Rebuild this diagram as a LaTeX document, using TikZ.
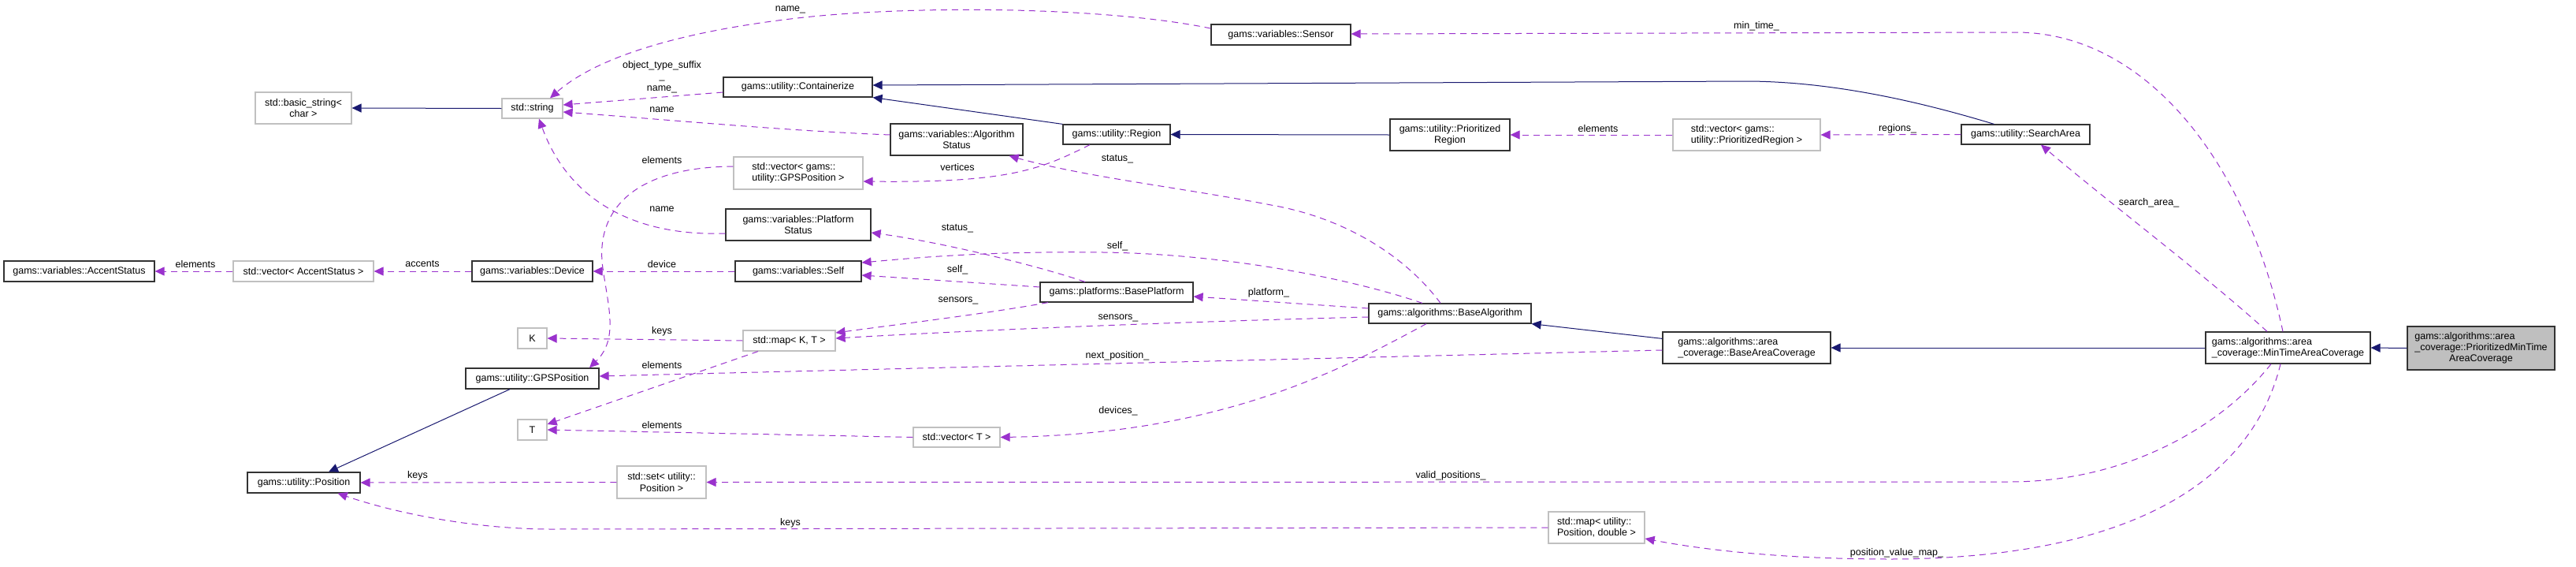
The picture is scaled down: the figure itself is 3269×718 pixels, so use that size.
\documentclass[tikz,border=0pt]{standalone}
\usepackage{fontspec}
\setmainfont{Liberation Sans}
\usetikzlibrary{arrows.meta}
\definecolor{inh}{HTML}{191970}
\definecolor{usg}{HTML}{9A32CD}
\definecolor{gbord}{HTML}{C0C0C0}
\definecolor{gfill}{HTML}{BFBFBF}
\begin{document}
\begin{tikzpicture}[x=1pt,y=-1pt,font=\fontsize{12.5}{14.3}\selectfont,
  cls/.style={draw=black!80,line width=1.2pt,inner sep=0pt,fill=white,text=black},
  ext/.style={draw=gbord,line width=1.2pt,inner sep=0pt,fill=white,text=black},
  inhe/.style={draw=inh,line width=1pt,-{Triangle[length=12pt,width=11pt]}},
  usee/.style={draw=usg,line width=1pt,dash pattern=on 8pt off 6pt,-{Triangle[length=12pt,width=11pt]}},
  lbl/.style={inner sep=0pt,text=black}]
\useasboundingbox (0,0) rectangle (3269,718);
\fill[white] (0,0) rectangle (3269,718);

% ---------- nodes ----------
\node[cls,minimum width=191pt,minimum height=26pt] (acc) at (100.5,344) {gams::variables::AccentStatus};
\node[ext,minimum width=178pt,minimum height=26pt] (vacc) at (385,344) {std::vector< AccentStatus >};
\node[ext,minimum width=122pt,minimum height=40pt,align=center] (bstr) at (385,137) {std::basic\_string<\\char >};
\node[ext,minimum width=77pt,minimum height=25pt] (str) at (675.5,137.5) {std::string};
\node[cls,minimum width=189pt,minimum height=25pt] (cont) at (1012.5,110.5) {gams::utility::Containerize};
\node[cls,minimum width=177pt,minimum height=26pt] (sens) at (1625.5,44) {gams::variables::Sensor};
\node[cls,minimum width=168pt,minimum height=40pt,align=center] (algst) at (1214,177) {gams::variables::Algorithm\\Status};
\node[cls,minimum width=136pt,minimum height=25pt] (reg) at (1417,170.5) {gams::utility::Region};
\node[ext,minimum width=164pt,minimum height=41pt,align=left] (vgps) at (1013,219.5) {std::vector< gams::\\utility::GPSPosition >};
\node[cls,minimum width=184pt,minimum height=40pt,align=center] (pst) at (1013,285) {gams::variables::Platform\\Status};
\node[cls,minimum width=153pt,minimum height=26pt] (dev) at (675.5,344) {gams::variables::Device};
\node[cls,minimum width=160pt,minimum height=26pt] (self) at (1013,344) {gams::variables::Self};
\node[cls,minimum width=194pt,minimum height=25pt] (bplat) at (1417,370.5) {gams::platforms::BasePlatform};
\node[cls,minimum width=152pt,minimum height=40pt,align=center] (preg) at (1840,171) {gams::utility::Prioritized\\Region};
\node[ext,minimum width=187pt,minimum height=40pt,align=left] (vpreg) at (2216.5,171) {std::vector< gams::\\utility::PrioritizedRegion >};
\node[cls,minimum width=163pt,minimum height=25pt] (sarea) at (2570.5,170.5) {gams::utility::SearchArea};
\node[cls,minimum width=206pt,minimum height=25pt] (balg) at (1840,397.5) {gams::algorithms::BaseAlgorithm};
\node[cls,minimum width=213pt,minimum height=40pt,align=left] (bac) at (2216.5,441) {gams::algorithms::area\\\_coverage::BaseAreaCoverage};
\node[cls,minimum width=209pt,minimum height=40pt,align=left] (mtac) at (2903.5,441) {gams::algorithms::area\\\_coverage::MinTimeAreaCoverage};
\node[cls,fill=gfill,minimum width=187pt,minimum height=55pt] (pmtac) at (3148.5,441.5) {\begin{tabular}{@{}l@{}}gams::algorithms::area\\\_coverage::PrioritizedMinTime\\\multicolumn{1}{@{}c@{}}{AreaCoverage}\end{tabular}};
\node[ext,minimum width=37pt,minimum height=26pt] (K) at (675.5,429) {K};
\node[ext,minimum width=117pt,minimum height=26pt] (mapkt) at (1001.5,432) {std::map< K, T >};
\node[cls,minimum width=169pt,minimum height=26pt] (gps) at (675.5,480) {gams::utility::GPSPosition};
\node[ext,minimum width=37pt,minimum height=26pt] (T) at (675.5,545) {T};
\node[ext,minimum width=110pt,minimum height=25pt] (vt) at (1214,554.5) {std::vector< T >};
\node[cls,minimum width=143pt,minimum height=26pt] (pos) at (385.5,612) {gams::utility::Position};
\node[ext,minimum width=113pt,minimum height=41pt,align=center] (setpos) at (839.5,611.5) {std::set< utility::\\Position >};
\node[ext,minimum width=122pt,minimum height=40pt,align=left] (mappos) at (2026,669) {std::map< utility::\\Position, double >};

% ---------- inheritance ----------
\draw[inhe] (str.west) -- (bstr.east);
\draw[inhe] ([xshift=-40pt]sarea.north) .. controls (2440,130) and (2330,104) .. (2220,103) -- ([yshift=2.5pt]cont.east);
\draw[inhe] (reg.north west) -- (cont.south east);
\draw[inhe] (preg.west) -- (reg.east);
\draw[inhe] ([xshift=-28.5pt]gps.south) -- ([xshift=31.5pt]pos.north);
\draw[inhe] ([yshift=-9pt]bac.north west) -- (balg.south east);
\draw[inhe] (mtac.west) -- (bac.east);
\draw[inhe] (pmtac.west) -- (mtac.east);

% ---------- usage ----------
\draw[usee] ([yshift=8pt]sens.west) .. controls (1400,8) and (1150,6) .. (1003,24) .. controls (870,40) and (760,70) .. ([xshift=22.5pt]str.north);
\draw[usee] ([xshift=-6.5pt]mtac.north) .. controls (2850,200) and (2720,42) .. (2560,41) -- ([yshift=1pt]sens.east);
\draw[usee] ([yshift=-6.5pt]cont.west) -- ([yshift=4.5pt]str.east);
\draw[usee] ([yshift=6pt]algst.west) .. controls (1000,166) and (850,152) .. ([yshift=-4.5pt]str.east);
\draw[usee] ([yshift=-11pt]pst.west) .. controls (800,300) and (720,250) .. ([xshift=8.5pt]str.south);
\draw[usee] ([xshift=-34pt]reg.south) .. controls (1320,215) and (1280,232) .. ([yshift=-10.5pt]vgps.east);
\draw[usee] ([yshift=8.5pt]vgps.west) .. controls (800,212) and (755,270) .. (765,340) .. controls (772,390) and (785,430) .. ([xshift=72.5pt]gps.north);
\draw[usee] ([xshift=-12pt]balg.north) .. controls (1780,320) and (1700,275) .. (1613,260) .. controls (1500,238) and (1380,225) .. ([xshift=-18pt]algst.south east);
\draw[usee] ([xshift=-40pt]bplat.north) .. controls (1320,338) and (1200,308) .. ([yshift=-10pt]pst.east);
\draw[usee] ([xshift=-35pt]balg.north) .. controls (1720,355) and (1560,322) .. (1400,320) .. controls (1250,318) and (1150,328) .. ([yshift=11pt]self.east);
\draw[usee] ([yshift=6.5pt]bplat.west) -- ([yshift=-5pt]self.east);
\draw[usee] (self.west) -- (dev.east);
\draw[usee] (dev.west) -- (vacc.east);
\draw[usee] (vacc.west) -- (acc.east);
\draw[usee] ([yshift=6.5pt]balg.west) -- ([yshift=-5.5pt]bplat.east);
\draw[usee] ([xshift=-87pt]bplat.south) .. controls (1250,398) and (1150,410) .. ([yshift=10pt]mapkt.east);
\draw[usee] ([yshift=-4.5pt]balg.west) .. controls (1500,408) and (1250,418) .. ([yshift=3pt]mapkt.east);
\draw[usee] (mapkt.west) -- (K.east);
\draw[usee] ([xshift=-39.5pt]mapkt.south) -- ([yshift=7pt]T.east);
\draw[usee] ([yshift=-3pt]bac.west) .. controls (1700,454) and (1200,466) .. ([yshift=3pt]gps.east);
\draw[usee] (vt.west) -- (T.east);
\draw[usee] ([xshift=-30pt]balg.south) .. controls (1700,470) and (1550,550) .. (vt.east);
\draw[usee] (setpos.west) -- (pos.east);
\draw[usee] (mappos.west) -- (700,671) .. controls (600,671) and (500,650) .. ([xshift=-29pt]pos.south east);
\draw[usee] ([xshift=-21.5pt]mtac.south) .. controls (2820,540) and (2700,611) .. (2550,611) -- (setpos.east);
\draw[usee] ([xshift=-9.5pt]mtac.south) .. controls (2860,600) and (2720,708) .. (2400,709) .. controls (2250,709) and (2150,695) .. ([yshift=-14pt]mappos.east);
\draw[usee] ([xshift=-26.5pt]mtac.north) .. controls (2800,350) and (2680,260) .. ([xshift=19.5pt]sarea.south);
\draw[usee] (sarea.west) -- (vpreg.east);
\draw[usee] (vpreg.west) -- (preg.east);

% ---------- labels ----------
\node[lbl] (l1) at (1003,12) {name\_};
\node[lbl] (l2) at (2229,33) {min\_time\_};
\node[lbl,align=center] (l3) at (840,97.5) {object\_type\_suffix\\\_\\name\_};
\node[lbl] (l4) at (840,139) {name};
\node[lbl] (l5) at (840,265) {name};
\node[lbl] (l6) at (1215,212) {vertices};
\node[lbl] (l7) at (840,203) {elements};
\node[lbl] (l8) at (1418,202) {status\_};
\node[lbl] (l9) at (1215,290) {status\_};
\node[lbl] (l10) at (1418,312) {self\_};
\node[lbl] (l11) at (1215,342) {self\_};
\node[lbl] (l12) at (840,335) {device};
\node[lbl] (l13) at (536,335) {accents};
\node[lbl] (l14) at (248,335) {elements};
\node[lbl] (l15) at (1610,371) {platform\_};
\node[lbl] (l16) at (1216,381) {sensors\_};
\node[lbl] (l17) at (1419,403) {sensors\_};
\node[lbl] (l18) at (840,420) {keys};
\node[lbl] (l19) at (840,463) {elements};
\node[lbl] (l20) at (1418,451) {next\_position\_};
\node[lbl] (l21) at (840,539) {elements};
\node[lbl] (l22) at (1419,521) {devices\_};
\node[lbl] (l23) at (530,603) {keys};
\node[lbl] (l24) at (1003,663) {keys};
\node[lbl] (l25) at (1841,603) {valid\_positions\_};
\node[lbl] (l26) at (2407,701) {position\_value\_map\_};
\node[lbl] (l27) at (2727,257) {search\_area\_};
\node[lbl] (l28) at (2408,163) {regions\_};
\node[lbl] (l29) at (2028,163) {elements};
\end{tikzpicture}
\end{document}
